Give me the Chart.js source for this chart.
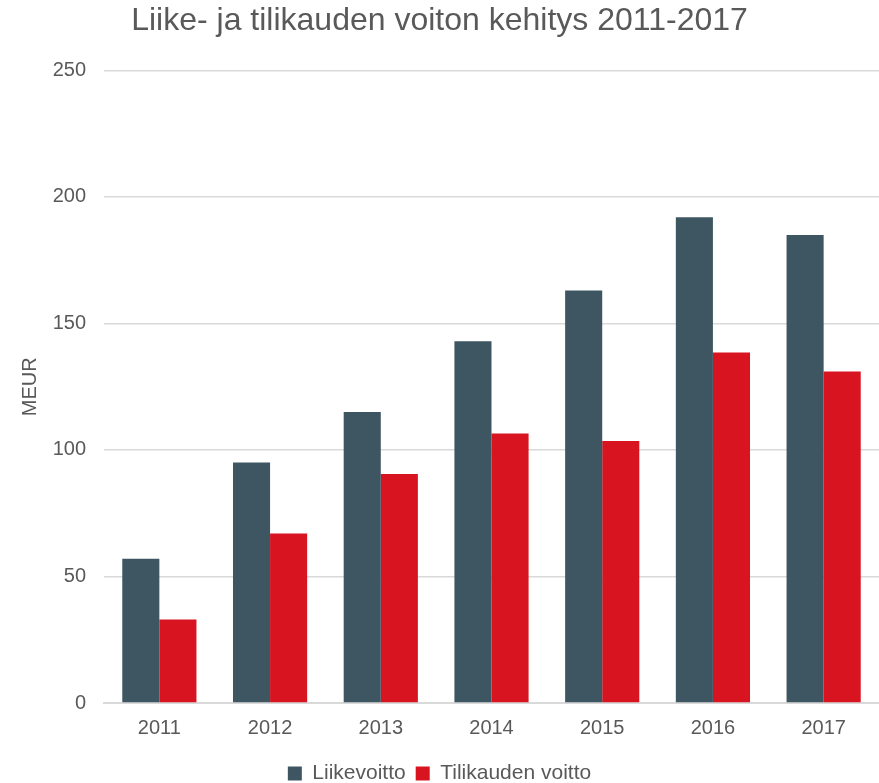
<!DOCTYPE html>
<html>
<head>
<meta charset="utf-8">
<script src="https://cdn.jsdelivr.net/npm/chart.js@4"></script>
<style>
  html, body { margin: 0; padding: 0; background: #fff; }
  #wrap { width: 879px; height: 783px; }
</style>
</head>
<body>
<div id="wrap"><canvas id="kaavio"></canvas></div>
<script>
const vuodet = ['2011', '2012', '2013', '2014', '2015', '2016', '2017'];
const liikevoitto = [57, 95, 115, 143, 163, 192, 185];
const tilikaudenVoitto = [33, 67, 90.5, 106.5, 103.5, 138.5, 131];
const yTicks = [0, 50, 100, 150, 200, 250];

const harmaa = '#595959';
const fontti = 'Liberation Sans, Arial, sans-serif';

new Chart(document.getElementById('kaavio'), {
  type: 'bar',
  data: {
    labels: vuodet,
    datasets: [{
      label: 'Liikevoitto',
      data: liikevoitto,
      backgroundColor: '#3e5661',
      borderWidth: 0
    }, {
      label: 'Tilikauden voitto',
      data: tilikaudenVoitto,
      backgroundColor: '#d7141f',
      borderWidth: 0
    }]
  },
  options: {
    responsive: true,
    maintainAspectRatio: false,
    animation: false,
    layout: { padding: { left: 0, right: 0, top: 0, bottom: -11 } },
    datasets: {
      bar: { categoryPercentage: 0.67, barPercentage: 1.0 }
    },
    plugins: {
      title: {
        display: true,
        text: 'Liike- ja tilikauden voiton kehitys 2011-2017',
        color: harmaa,
        font: { family: fontti, size: 32, weight: 'normal' },
        padding: { top: 2, bottom: 30 }
      },
      legend: {
        position: 'bottom',
        labels: {
          color: harmaa,
          font: { family: fontti, size: 21 },
          boxWidth: 14,
          boxHeight: 14,
          padding: 10
        }
      },
      tooltip: { enabled: false }
    },
    scales: {
      x: {
        grid: { display: false, drawTicks: false },
        border: { color: '#d9d9d9', width: 2 },
        ticks: {
          color: harmaa,
          font: { family: fontti, size: 20 },
          padding: 13
        }
      },
      y: {
        min: 0,
        max: 250,
        afterBuildTicks: (akseli) => { akseli.ticks = yTicks.map(v => ({ value: v })); },
        afterFit: (akseli) => { akseli.width = 104; },
        grid: { color: '#d9d9d9', drawTicks: false, lineWidth: 1.5 },
        border: { display: false },
        ticks: {
          color: harmaa,
          font: { family: fontti, size: 20 },
          padding: 18
        },
        title: {
          display: true,
          text: 'MEUR',
          color: harmaa,
          font: { family: fontti, size: 20 },
          padding: { top: 18, bottom: 10 }
        }
      }
    }
  }
});
</script>
</body>
</html>
